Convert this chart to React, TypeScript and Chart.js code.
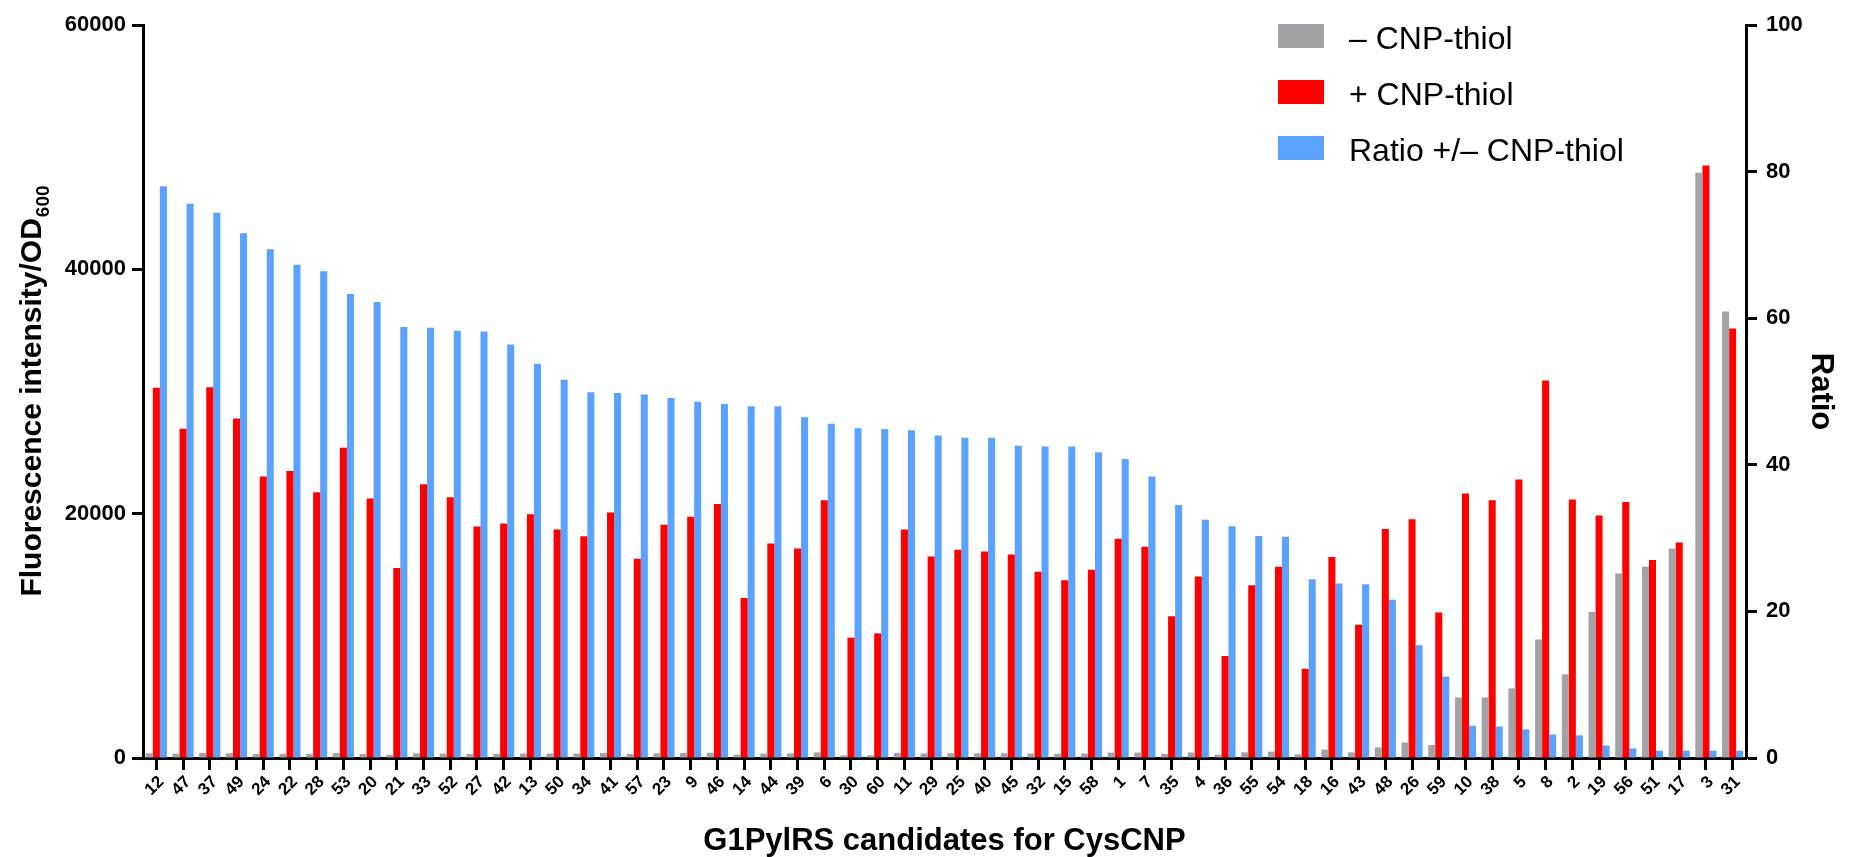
import React, { useEffect, useRef } from 'react';
import { Chart, registerables } from 'chart.js';

Chart.register(...registerables);

// G1PylRS candidate clones, in plotted order
const candidates = [
  '12', '47', '37', '49', '24', '22', '28', '53', '20', '21',
  '33', '52', '27', '42', '13', '50', '34', '41', '57', '23',
  '9', '46', '14', '44', '39', '6', '30', '60', '11', '29',
  '25', '40', '45', '32', '15', '58', '1', '7', '35', '4',
  '36', '55', '54', '18', '16', '43', '48', '26', '59', '10',
  '38', '5', '8', '2', '19', '56', '51', '17', '3', '31',
];

// Fluorescence intensity / OD600 without CNP-thiol
const minusThiol = [
  390, 355, 410, 390, 330, 350, 330, 400, 340, 265,
  380, 365, 325, 340, 370, 365, 365, 405, 330, 390,
  405, 430, 275, 365, 370, 460, 220, 225, 420, 375,
  390, 385, 390, 360, 340, 370, 440, 450, 335, 455,
  265, 465, 520, 300, 690, 460, 870, 1270, 1070, 4950,
  4950, 5700, 9700, 6850, 11950, 15100, 15650, 17150, 47900, 36550,
];

// Fluorescence intensity / OD600 with CNP-thiol
const plusThiol = [
  30300, 26950, 30350, 27800, 23050, 23500, 21750, 25400, 21250, 15550,
  22400, 21350, 18950, 19200, 19950, 18700, 18150, 20100, 16300, 19100,
  19750, 20800, 13100, 17550, 17150, 21100, 9850, 10200, 18700, 16500,
  17050, 16900, 16650, 15250, 14550, 15400, 17950, 17300, 11600, 14850,
  8350, 14150, 15650, 7300, 16450, 10900, 18750, 19550, 11900, 21650,
  21100, 22800, 30900, 21150, 19850, 20950, 16200, 17650, 48500, 35150,
];

// Ratio of the two readings (+ / -)
const ratio = [
  78.0, 75.6, 74.4, 71.6, 69.4, 67.3, 66.4, 63.3, 62.2, 58.8,
  58.7, 58.3, 58.2, 56.4, 53.8, 51.6, 49.9, 49.8, 49.6, 49.1,
  48.6, 48.3, 48.0, 48.0, 46.5, 45.6, 45.0, 44.9, 44.7, 44.0,
  43.7, 43.7, 42.6, 42.5, 42.5, 41.7, 40.8, 38.4, 34.5, 32.5,
  31.6, 30.3, 30.2, 24.4, 23.8, 23.7, 21.6, 15.4, 11.1, 4.4,
  4.3, 3.9, 3.2, 3.1, 1.7, 1.3, 1.0, 1.0, 1.0, 1.0,
];

const fluorTicks = [0, 20000, 40000, 60000];
const ratioTicks = [0, 20, 40, 60, 80, 100];

const FONT = '"Liberation Sans", Arial, Helvetica, sans-serif';

// Left axis title with a subscripted "600"
const yTitlePlugin = {
  id: 'fluorTitle',
  afterDraw(chart: any) {
    const { ctx, chartArea } = chart;
    const cy = (chartArea.top + chartArea.bottom) / 2;
    const main = 'Fluorescence intensity/OD';
    const sub = '600';
    ctx.save();
    ctx.fillStyle = '#000';
    ctx.font = `bold 30px ${FONT}`;
    const w1 = ctx.measureText(main).width;
    ctx.font = `bold 19px ${FONT}`;
    const w2 = ctx.measureText(sub).width;
    const x0 = -(w1 + w2) / 2;
    ctx.translate(0, cy);
    ctx.rotate(-Math.PI / 2);
    ctx.textAlign = 'left';
    ctx.textBaseline = 'alphabetic';
    ctx.font = `bold 30px ${FONT}`;
    ctx.fillText(main, x0, 41);
    ctx.font = `bold 19px ${FONT}`;
    ctx.fillText(sub, x0 + w1 + 1, 49);
    ctx.restore();
  },
};

// Legend stacked in the upper right corner
const legendPlugin = {
  id: 'cornerLegend',
  afterDraw(chart: any) {
    const { ctx } = chart;
    ctx.save();
    ctx.font = `32px ${FONT}`;
    ctx.textAlign = 'left';
    ctx.textBaseline = 'alphabetic';
    chart.data.datasets.forEach((ds: any, i: number) => {
      const top = 24 + i * 56;
      ctx.fillStyle = ds.backgroundColor;
      ctx.fillRect(1278, top, 46, 24);
      ctx.fillStyle = '#000';
      ctx.fillText(ds.label, 1349, top + 25);
    });
    ctx.restore();
  },
};

export default function App() {
  const canvasRef = useRef<HTMLCanvasElement | null>(null);

  useEffect(() => {
    const canvas = canvasRef.current;
    if (!canvas) return;
    Chart.defaults.font.family = FONT;
    Chart.defaults.color = '#000';

    const axisGrid = {
      display: true,
      drawOnChartArea: false,
      tickLength: 11,
      tickWidth: 3,
      tickColor: '#000',
    };
    const axisBorder = { display: true, width: 3, color: '#000' };

    const chart = new Chart(canvas, {
      type: 'bar',
      data: {
        labels: candidates,
        datasets: [
          { label: '\u2013 CNP-thiol', data: minusThiol, backgroundColor: '#a3a2a7', yAxisID: 'y' },
          { label: '+ CNP-thiol', data: plusThiol, backgroundColor: '#ff0000', yAxisID: 'y' },
          { label: 'Ratio +/\u2013 CNP-thiol', data: ratio, backgroundColor: '#5aa2fd', yAxisID: 'y1' },
        ],
      },
      options: {
        responsive: false,
        animation: false,
        devicePixelRatio: 1,
        layout: { padding: { top: 25, left: 0, right: 0, bottom: 0 } },
        datasets: { bar: { categoryPercentage: 0.79, barPercentage: 1 } },
        plugins: {
          legend: { display: false },
          tooltip: { enabled: false },
        },
        scales: {
          x: {
            offset: true,
            z: 1,
            grid: { ...axisGrid, offset: false, tickLength: 12 },
            border: axisBorder,
            ticks: {
              autoSkip: false,
              minRotation: 45,
              maxRotation: 45,
              padding: 2,
              labelOffset: 5,
              color: '#000',
              font: { size: 17, weight: 'bold' },
            },
            title: {
              display: true,
              text: 'G1PylRS candidates for CysCNP',
              color: '#000',
              font: { size: 31, weight: 'bold', lineHeight: 1 },
              padding: { top: 0, bottom: 0 },
            },
            afterFit: (s: any) => {
              s.height = 99;
            },
          },
          y: {
            position: 'left',
            min: 0,
            max: 60000,
            z: 1,
            grid: axisGrid,
            border: axisBorder,
            afterBuildTicks: (s: any) => {
              s.ticks = fluorTicks.map((v) => ({ value: v }));
            },
            ticks: {
              padding: 6,
              color: '#000',
              font: { size: 22, weight: 'bold' },
              callback: (v: any) => String(v),
            },
            afterFit: (s: any) => {
              s.width = 143;
            },
          },
          y1: {
            position: 'right',
            min: 0,
            max: 100,
            z: 1,
            grid: axisGrid,
            border: axisBorder,
            afterBuildTicks: (s: any) => {
              s.ticks = ratioTicks.map((v) => ({ value: v }));
            },
            ticks: {
              padding: 9,
              color: '#000',
              font: { size: 22, weight: 'bold' },
              callback: (v: any) => String(v),
            },
            title: {
              display: true,
              text: 'Ratio',
              color: '#000',
              font: { size: 31, weight: 'bold' },
              padding: { top: 20, bottom: 0 },
            },
            afterFit: (s: any) => {
              s.width = 113;
            },
          },
        },
      } as any,
      plugins: [yTitlePlugin, legendPlugin],
    });

    return () => chart.destroy();
  }, []);

  return (
    <div
      style={{
        position: 'fixed',
        left: 0,
        top: 0,
        width: 1859,
        height: 857,
        background: '#fff',
      }}
    >
      <canvas ref={canvasRef} width={1859} height={857} style={{ display: 'block' }} />
    </div>
  );
}
